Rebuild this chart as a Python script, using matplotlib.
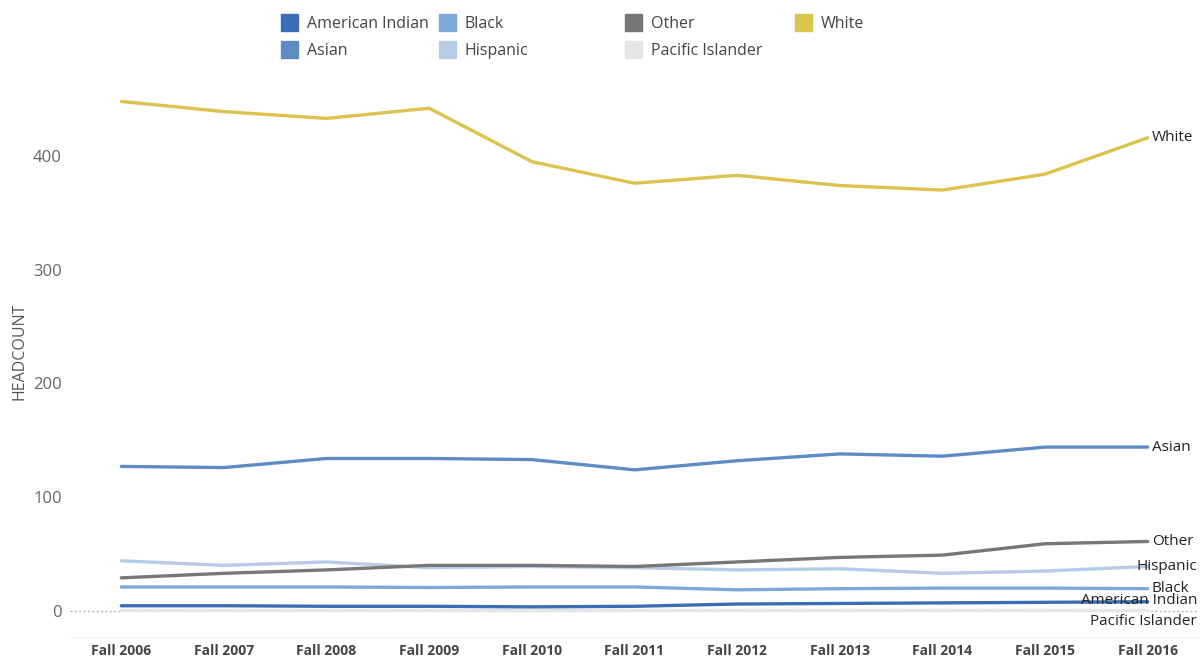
import matplotlib
matplotlib.use("Agg")
import matplotlib.pyplot as plt
import matplotlib.patches as mpatches
import matplotlib.transforms as mtransforms

plt.rcParams['font.family'] = ['Open Sans', 'DejaVu Sans']

years = ["Fall 2006", "Fall 2007", "Fall 2008", "Fall 2009", "Fall 2010", "Fall 2011",
         "Fall 2012", "Fall 2013", "Fall 2014", "Fall 2015", "Fall 2016"]

american_indian = [4.5, 4.5, 4, 4, 3.5, 4, 6, 6.5, 7, 7.5, 8]
asian = [127, 126, 134, 134, 133, 124, 132, 138, 136, 144, 144]
black = [21, 21, 21, 20.5, 21, 21, 18.5, 19.5, 20, 20, 19.5]
hispanic = [44, 40, 43, 38, 39, 38, 36, 37, 33, 35, 39]
other = [29, 33, 36, 40, 40, 39, 43, 47, 49, 59, 61]
pacific_islander = [1, 1, 1, 1, 1, 1, 1, 1, 1, 1, 1]
white = [448, 439, 433, 442, 395, 376, 383, 374, 370, 384, 416]

series_names = ["American Indian", "Asian", "Black", "Hispanic", "Other", "Pacific Islander", "White"]
series_values = [american_indian, asian, black, hispanic, other, pacific_islander, white]
colors = ["#3a6db4", "#5f8bc4", "#7ea8d8", "#b7cce6", "#777777", "#e6e6e6", "#dcc24e"]
label_offsets = {"American Indian": 1.5, "Pacific Islander": -10}

fig = plt.figure(figsize=(12, 6.56), dpi=100)
W, H = 1200, 656
ax = fig.add_axes([70 / W, 1 - 637 / H, (1199 - 70) / W, (637 - 65) / H])

x = list(range(len(years)))
draw_order = ["Pacific Islander", "Black", "Hispanic", "Other", "American Indian", "Asian", "White"]
ax.axhline(0, color="#aaaaaa", lw=0.9, ls=(0, (1.5, 2)), zorder=1)
for name in draw_order:
    i = series_names.index(name)
    ax.plot(x, series_values[i], color=colors[i], lw=2.4, solid_capstyle="round", zorder=2)

ax.set_xlim(-0.5, 10.5)
ax.set_ylim(-23, 480)
ax.set_yticks([0, 100, 200, 300, 400])
ax.set_xticks(x)
ax.set_xticklabels(years, fontsize=10, fontweight="bold", color="#444444")
ax.tick_params(axis="y", labelsize=12, colors="#666666", length=0, pad=6)
ax.tick_params(axis="x", length=0, pad=5)
for s in ["top", "right", "left"]:
    ax.spines[s].set_visible(False)
ax.spines["bottom"].set_color("#eeeeee")
ax.set_ylabel("HEADCOUNT", fontsize=11.5, color="#555555")
ax.yaxis.set_label_coords(-42 / 1129, 0.5)

# end labels
trans_fig = mtransforms.blended_transform_factory(fig.transFigure, ax.transData)
for i, name in enumerate(series_names):
    yv = series_values[i][-1] + label_offsets.get(name, 0)
    if len(name) > 6:
        ax.text(0.9975, yv, name, transform=trans_fig, ha="right", va="center",
                fontsize=11, color="#222222", zorder=5)
    else:
        ax.annotate(name, xy=(x[-1], yv), xytext=(3, 0), textcoords="offset points",
                    ha="left", va="center", fontsize=11, color="#222222", zorder=5)

# legend in 4 columns
col_x = [281, 439, 625, 795]
for c in range(4):
    idx = [k for k in range(len(series_names)) if k // 2 == c]
    handles = [mpatches.Patch(color=colors[k], label=series_names[k]) for k in idx]
    fig.legend(handles=handles, loc="upper left",
               bbox_to_anchor=(col_x[c] / W, 1 - 14 / H),
               frameon=False, fontsize=11.5, handlelength=1.05, handleheight=1.25,
               handletextpad=0.55, labelspacing=0.6, borderpad=0, borderaxespad=0,
               labelcolor="#444444")

fig.savefig("out.png", dpi=100)
